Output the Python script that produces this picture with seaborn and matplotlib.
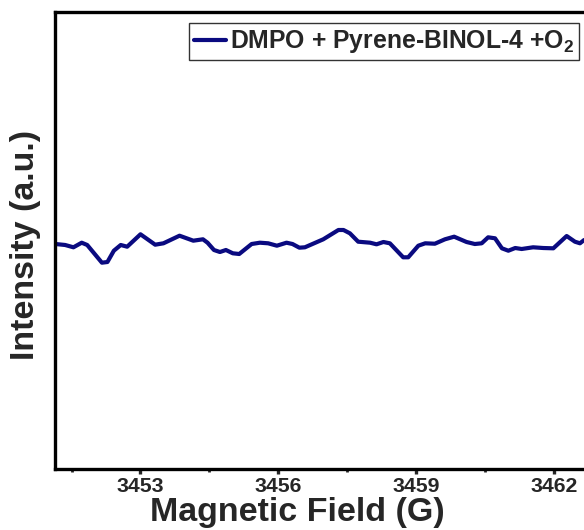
import matplotlib
matplotlib.use("Agg")
import matplotlib.pyplot as plt
from matplotlib.ticker import MultipleLocator
import numpy as np
import pandas as pd
import seaborn as sns

# EPR spectrum: DMPO + Pyrene-BINOL-4 under O2 (no radical adduct signal)
field_G = [
    3451.15, 3451.36, 3451.54, 3451.72, 3451.84, 3452.16, 3452.28, 3452.42,
    3452.57, 3452.71, 3453.00, 3453.32, 3453.50, 3453.85, 3454.15, 3454.36,
    3454.46, 3454.60, 3454.73, 3454.86, 3455.01, 3455.15, 3455.42, 3455.60,
    3455.78, 3455.97, 3456.18, 3456.31, 3456.46, 3456.58, 3456.91, 3456.98,
    3457.31, 3457.42, 3457.56, 3457.74, 3458.00, 3458.14, 3458.29, 3458.43,
    3458.72, 3458.83, 3459.05, 3459.20, 3459.41, 3459.63, 3459.83, 3460.10,
    3460.28, 3460.43, 3460.57, 3460.72, 3460.87, 3461.01, 3461.16, 3461.30,
    3461.55, 3461.77, 3461.99, 3462.28, 3462.46, 3462.57, 3462.66,
]
intensity = [
    -1.60, -2.03, -3.04, -1.03, -2.03, -9.77, -9.47, -4.53,
    -2.03, -2.78, 2.65, -1.90, -1.29, 2.03, -0.15, 0.46,
    -1.03, -4.22, -5.10, -4.22, -5.66, -5.97, -1.60, -1.03,
    -1.29, -2.34, -1.03, -1.60, -3.21, -3.04, -0.15, 0.46,
    4.53, 4.53, 3.08, -0.59, -1.03, -1.73, -0.72, -1.29,
    -7.41, -7.41, -2.34, -1.29, -1.47, 0.46, 1.60, -0.72,
    -1.60, -1.29, 1.33, 0.90, -3.48, -4.53, -3.35, -3.78,
    -3.04, -3.35, -3.48, 1.90, -0.59, -1.29, 0.15,
]
series_label = r"DMPO + Pyrene-BINOL-4 +O$_\mathbf{2}$"
field_ticks = [3453, 3456, 3459, 3462]

sns.set_style("ticks")
plt.rcParams["font.family"] = ["Liberation Sans", "DejaVu Sans"]
plt.rcParams["font.weight"] = "bold"
plt.rcParams["mathtext.fontset"] = "custom"
plt.rcParams["mathtext.bf"] = "Liberation Sans:bold"
plt.rcParams["mathtext.rm"] = "Liberation Sans:bold"
plt.rcParams["mathtext.default"] = "bf"

W, H = 584, 530
fig = plt.figure(figsize=(W / 100, H / 100), dpi=100)
# axes run past the right edge of the canvas
left, top, bottom, right = 55.3, 11.7, 469.0, 600.0
ax = fig.add_axes([left / W, 1 - bottom / H, (right - left) / W, (bottom - top) / H])

df = pd.DataFrame({"Magnetic Field (G)": field_G, "Intensity": intensity})
sns.lineplot(data=df, x="Magnetic Field (G)", y="Intensity", ax=ax,
             color="#0a0a80", linewidth=3.0, label=series_label,
             estimator=None, sort=False)

ax.set_xlim(3451.145, 3463.006)
ax.set_ylim(-100, 100)
ax.set_xticks(field_ticks)
ax.set_xticklabels([str(t) for t in field_ticks])
ax.xaxis.set_minor_locator(MultipleLocator(1.5))
ax.set_yticks([])
ax.set_xlabel("")
ax.set_ylabel("")

for s in ax.spines.values():
    s.set_linewidth(2.4)
    s.set_color("black")

ax.tick_params(axis="x", which="major", direction="out", length=3.6, width=2.4,
               pad=2.0, labelsize=15.3)
ax.tick_params(axis="x", which="minor", direction="out", length=2.0, width=2.0)
for lbl in ax.get_xticklabels():
    lbl.set_fontweight("bold")

fig.text(297 / W, 1 - 512.6 / H, "Magnetic Field (G)", ha="center", va="center",
         fontsize=24.5, fontweight="bold")
fig.text(25.3 / W, 1 - 244.5 / H, "Intensity (a.u.)", ha="center", va="center",
         rotation=90, fontsize=24.5, fontweight="bold")

leg = ax.legend(loc="upper right", bbox_to_anchor=(579 / W, 1 - 23.3 / H),
                bbox_transform=fig.transFigure, borderaxespad=0.0,
                frameon=True, fancybox=False, edgecolor="black",
                prop={"weight": "bold", "size": 17.8},
                handlelength=1.3, handletextpad=0.17, borderpad=0.2)
leg.get_frame().set_linewidth(1.0)
for ln in leg.get_lines():
    ln.set_linewidth(3.0)

fig.savefig("out.png", dpi=100)
